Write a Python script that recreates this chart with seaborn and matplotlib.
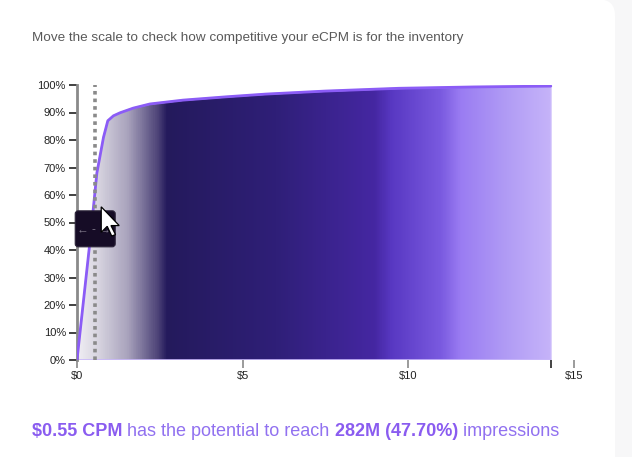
import numpy as np
import matplotlib.pyplot as plt
import matplotlib.transforms as mtransforms
import seaborn as sns
from matplotlib.colors import LinearSegmentedColormap
from matplotlib.patches import FancyBboxPatch, Polygon

# --- Datos ---
cpm = [0, 0.2, 0.4, 0.6, 0.8, 0.93, 1.1, 1.3, 1.7, 2.2, 3.2, 4.5, 5.7, 7.5, 9.7, 12.0, 14.3]
reach = [0, 22, 44, 68, 81, 87, 88.8, 89.9, 91.6, 93.1, 94.5, 95.7, 96.7, 97.8, 98.8, 99.3, 99.6]
bid_cpm = 0.55
bid_share = 47.70
bid_impressions = "282M"
x_ticks = [0, 5, 10, 15]
y_ticks = list(range(0, 101, 10))
title = "Move the scale to check how competitive your eCPM is for the inventory"

# degradado horizontal del área (posición en $, color)
grad_pos = [0, 0.6, 1.5, 2.4, 2.7, 6.0, 9.0, 9.5, 11.0, 11.6, 13.0, 14.3]
grad_colors = ["#efedf3", "#d8d5e0", "#a9a3bd", "#4f4579", "#241a5c", "#2f1f78",
               "#4527a2", "#5838c2", "#7a5ae0", "#9a7cf2", "#b19cf5", "#c5b3f9"]

sns.set_theme(style="white")
plt.rcParams["font.family"] = ["Liberation Sans", "DejaVu Sans"]
plt.rcParams["text.parse_math"] = False

W, H = 632, 457
fig = plt.figure(figsize=(W / 100, H / 100), dpi=100, facecolor="#f7f7f8")

# tarjeta blanca con esquina redondeada
card = FancyBboxPatch((-0.3, -0.3), 6.15 + 0.3, 4.57 + 0.3 + 0.005,
                      boxstyle="round,pad=0,rounding_size=0.16",
                      transform=fig.dpi_scale_trans, fc="white", ec="none", zorder=0)
fig.add_artist(card)

ax = fig.add_axes([77 / W, (H - 360) / H, 497 / W, 275 / H])
ax.patch.set_alpha(0)
ax.set_xlim(0, 15)
ax.set_ylim(0, 100)

# área con degradado
poly = ax.fill_between(cpm, reach, 0, facecolor="none", edgecolor="#c9b8fa", linewidth=1.2, zorder=2)
cmap = LinearSegmentedColormap.from_list("grad", list(zip(np.array(grad_pos) / grad_pos[-1], grad_colors)))
im = ax.imshow(np.linspace(0, 1, 800)[np.newaxis, :], extent=[0, cpm[-1], 0, 100],
               aspect="auto", cmap=cmap, zorder=1, interpolation="bilinear")
im.set_clip_path(poly.get_paths()[0], transform=ax.transData)

sns.lineplot(x=cpm, y=reach, ax=ax, color="#8b5cf6", linewidth=2, sort=False,
             estimator=None, zorder=3)

# línea punteada del CPM elegido
ax.vlines(bid_cpm, 0, 100, colors="#8a8a8a", linestyles=(0, (1, 1.1)), linewidth=2.6, zorder=4)

# ejes
ax.set_xticks(x_ticks)
ax.set_xticklabels([f"${t}" for t in x_ticks])
ax.set_xticks([0, cpm[-1]], minor=True)
ax.set_yticks(y_ticks)
ax.set_yticklabels([f"{t}%" for t in y_ticks])
ax.tick_params(axis="x", which="major", bottom=True, length=6, width=1.2, color="#8a8a8a",
               labelsize=8, labelcolor="#222222", pad=2)
ax.tick_params(axis="x", which="minor", bottom=True, length=6, width=1.2, color="#222222")
ax.tick_params(axis="y", left=True, length=6, width=1.3, color="#333333",
               labelsize=8, labelcolor="#222222", pad=2)
for s in ["top", "right", "bottom"]:
    ax.spines[s].set_visible(False)
ax.spines["left"].set_color("#8a8a8a")
ax.spines["left"].set_linewidth(2)
ax.grid(False)

# control deslizante y cursor
trans = fig.dpi_scale_trans + mtransforms.ScaledTranslation(bid_cpm, bid_share, ax.transData)
handle = FancyBboxPatch((-0.20, -0.18), 0.40, 0.36, boxstyle="round,pad=0,rounding_size=0.03",
                        transform=trans, fc="#160c26", ec="#2c2439", lw=0.8, zorder=5)
fig.add_artist(handle)
fig.text(-0.01, -0.01, "← - →", transform=trans, ha="center", va="center",
         fontsize=8.5, color="#7d7688", zorder=6)
shape = [(0, 0), (0, 17), (4, 13), (7, 19.5), (9.5, 18.5), (6.5, 12.5), (12, 12.5)]
cursor = Polygon([(0.06 + x * 1.5 / 100, 0.22 - y * 1.5 / 100) for x, y in shape], closed=True,
                 transform=trans, fc="white", ec="black", lw=0.9, zorder=7)
fig.add_artist(cursor)

# textos
fig.text(32 / W, 1 - 38 / H, title, ha="left", va="center", fontsize=9.7, color="#595959")

fs = 13
t1 = fig.text(32 / W, 1 - 432 / H, f"${bid_cpm:.2f} CPM", ha="left", va="center",
              fontsize=fs, fontweight="bold", color="#8a5cf0")
t2 = ax.annotate(" has the potential to reach ", xy=(1, 0), xycoords=t1, va="bottom", ha="left",
                 fontsize=fs, color="#9171f0", annotation_clip=False)
t3 = ax.annotate(f"{bid_impressions} ({bid_share:.2f}%)", xy=(1, 0), xycoords=t2, va="bottom",
                 ha="left", fontsize=fs, fontweight="bold", color="#8a5cf0", annotation_clip=False)
ax.annotate(" impressions", xy=(1, 0), xycoords=t3, va="bottom", ha="left",
            fontsize=fs, color="#9171f0", annotation_clip=False)

fig.savefig("out.png", dpi=100, facecolor=fig.get_facecolor())
plt.close()
